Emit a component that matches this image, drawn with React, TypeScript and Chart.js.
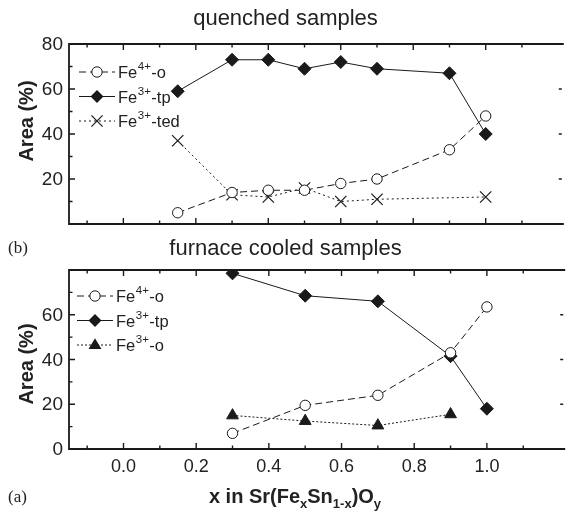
import React, { useEffect, useRef } from "react";
import { Chart, registerables } from "chart.js";

Chart.register(...registerables);

// ---- data ----
const xQuenched = [0.15, 0.3, 0.4, 0.5, 0.6, 0.7, 0.9, 1.0];
const qFe4o = [5, 14, 15, 15, 18, 20, 33, 48];
const qFe3tp = [59, 73, 73, 69, 72, 69, 67, 40];
const xQuenchedTed = [0.15, 0.3, 0.4, 0.5, 0.6, 0.7, 1.0];
const qFe3ted = [37, 13, 12, 16, 10, 11, 12];

const xFurnace = [0.3, 0.5, 0.7, 0.9, 1.0];
const fFe4o = [7, 19.5, 24, 43, 63.5];
const fFe3tp = [78.5, 68.5, 66, 41.5, 18];
const xFurnaceO = [0.3, 0.5, 0.7, 0.9];
const fFe3o = [15, 12.5, 10.5, 15.5];

const xMajorTicks = [0, 0.2, 0.4, 0.6, 0.8, 1.0];
const xMinorTicks = [-0.1, 0.1, 0.3, 0.5, 0.7, 0.9, 1.1];
const yMajorTicks = [0, 20, 40, 60, 80];
const yMinorTicks = [10, 30, 50, 70];
const topYLabels = [20, 40, 60, 80];
const bottomYLabels = [0, 20, 40, 60];

const INK = "#1a1a1a";
const W = 571;
const H = 519;

type Marker = "circle" | "diamond" | "cross" | "triangle";
interface Series {
  sup: string;
  suffix: string;
  xs: number[];
  ys: number[];
  dash: number[];
  marker: Marker;
}

const quenchedSeries: Series[] = [
  { sup: "4+", suffix: "-o", xs: xQuenched, ys: qFe4o, dash: [7, 4], marker: "circle" },
  { sup: "3+", suffix: "-tp", xs: xQuenched, ys: qFe3tp, dash: [], marker: "diamond" },
  { sup: "3+", suffix: "-ted", xs: xQuenchedTed, ys: qFe3ted, dash: [2, 3], marker: "cross" },
];
const furnaceSeries: Series[] = [
  { sup: "4+", suffix: "-o", xs: xFurnace, ys: fFe4o, dash: [7, 4], marker: "circle" },
  { sup: "3+", suffix: "-tp", xs: xFurnace, ys: fFe3tp, dash: [], marker: "diamond" },
  { sup: "3+", suffix: "-o", xs: xFurnaceO, ys: fFe3o, dash: [2, 2], marker: "triangle" },
];

function markerProps(m: Marker) {
  switch (m) {
    case "circle":
      return { pointStyle: "circle", pointRadius: 5.2, pointBackgroundColor: "#fff", pointBorderWidth: 1 };
    case "diamond":
      return { pointStyle: "rectRot", pointRadius: 6.5, pointBackgroundColor: INK, pointBorderWidth: 1 };
    case "cross":
      return { pointStyle: "crossRot", pointRadius: 8, pointBackgroundColor: INK, pointBorderWidth: 1.2 };
    default:
      return { pointStyle: "triangle", pointRadius: 6.8, pointBackgroundColor: INK, pointBorderWidth: 1 };
  }
}

function drawMarker(ctx: CanvasRenderingContext2D, m: Marker, x: number, y: number) {
  ctx.save();
  ctx.setLineDash([]);
  ctx.strokeStyle = INK;
  ctx.fillStyle = INK;
  ctx.lineWidth = 1;
  ctx.beginPath();
  if (m === "circle") {
    ctx.arc(x, y, 5.2, 0, Math.PI * 2);
    ctx.fillStyle = "#fff";
    ctx.fill();
    ctx.stroke();
  } else if (m === "diamond") {
    const r = 6.5;
    ctx.moveTo(x, y - r);
    ctx.lineTo(x + r, y);
    ctx.lineTo(x, y + r);
    ctx.lineTo(x - r, y);
    ctx.closePath();
    ctx.fill();
  } else if (m === "cross") {
    const r = 5.6;
    ctx.lineWidth = 1.2;
    ctx.moveTo(x - r, y - r);
    ctx.lineTo(x + r, y + r);
    ctx.moveTo(x + r, y - r);
    ctx.lineTo(x - r, y + r);
    ctx.stroke();
  } else {
    const r = 6.8;
    ctx.moveTo(x, y - r);
    ctx.lineTo(x + r * 0.95, y + r * 0.6);
    ctx.lineTo(x - r * 0.95, y + r * 0.6);
    ctx.closePath();
    ctx.fill();
  }
  ctx.restore();
}

interface PanelCfg {
  series: Series[];
  padTop: number;
  plotBottom: number;
  yLabels: number[];
  showXLabels: boolean;
  legendY: number;
  legendX0: number;
}

function makeAxesPlugin(cfg: PanelCfg) {
  return {
    id: "customAxes",
    afterDraw(chart: any) {
      const ctx: CanvasRenderingContext2D = chart.ctx;
      const { left, top, right, bottom } = chart.chartArea;
      const xs = chart.scales.x;
      const ys = chart.scales.y;
      ctx.save();
      ctx.strokeStyle = INK;
      ctx.lineWidth = 1.8;
      ctx.setLineDash([]);
      ctx.beginPath();
      ctx.moveTo(right + 2, top);
      ctx.lineTo(left, top);
      ctx.lineTo(left, bottom);
      ctx.lineTo(right + 2, bottom);
      ctx.stroke();

      ctx.lineWidth = 1.4;
      ctx.beginPath();
      for (const v of xMajorTicks) {
        const px = xs.getPixelForValue(v);
        ctx.moveTo(px, bottom);
        ctx.lineTo(px, bottom - 6);
        ctx.moveTo(px, top);
        ctx.lineTo(px, top + 6);
      }
      for (const v of xMinorTicks) {
        const px = xs.getPixelForValue(v);
        ctx.moveTo(px, bottom);
        ctx.lineTo(px, bottom - 3.5);
        ctx.moveTo(px, top);
        ctx.lineTo(px, top + 3.5);
      }
      for (const v of yMajorTicks) {
        const py = ys.getPixelForValue(v);
        ctx.moveTo(left, py);
        ctx.lineTo(left + 6, py);
        ctx.moveTo(right, py);
        ctx.lineTo(right - 3, py);
      }
      for (const v of yMinorTicks) {
        const py = ys.getPixelForValue(v);
        ctx.moveTo(left, py);
        ctx.lineTo(left + 3.5, py);
      }
      ctx.stroke();

      // tick labels
      ctx.fillStyle = "#222";
      ctx.font = "19px 'Liberation Sans', Arial, sans-serif";
      ctx.textAlign = "right";
      ctx.textBaseline = "middle";
      for (const v of cfg.yLabels) {
        ctx.fillText(String(v), left - 6, ys.getPixelForValue(v) + 1);
      }
      if (cfg.showXLabels) {
        ctx.font = "18px 'Liberation Sans', Arial, sans-serif";
        ctx.textAlign = "center";
        ctx.textBaseline = "top";
        for (const v of xMajorTicks) {
          ctx.fillText(v.toFixed(1), xs.getPixelForValue(v), bottom + 9);
        }
      }

      // legend
      cfg.series.forEach((s, i) => {
        const y = cfg.legendY + i * 24.5;
        const x0 = cfg.legendX0;
        const x1 = x0 + 36;
        ctx.save();
        ctx.strokeStyle = INK;
        ctx.lineWidth = 1;
        ctx.setLineDash(s.dash);
        ctx.beginPath();
        ctx.moveTo(x0, y);
        ctx.lineTo(x1, y);
        ctx.stroke();
        ctx.restore();
        drawMarker(ctx, s.marker, (x0 + x1) / 2, y);
        let tx = x1 + 3;
        ctx.fillStyle = "#222";
        ctx.textAlign = "left";
        ctx.textBaseline = "alphabetic";
        ctx.font = "16.5px 'Liberation Sans', Arial, sans-serif";
        ctx.fillText("Fe", tx, y + 6);
        tx += ctx.measureText("Fe").width + 0.5;
        ctx.font = "11.5px 'Liberation Sans', Arial, sans-serif";
        ctx.fillText(s.sup, tx, y - 2);
        tx += ctx.measureText(s.sup).width + 0.5;
        ctx.font = "16.5px 'Liberation Sans', Arial, sans-serif";
        ctx.fillText(s.suffix, tx, y + 6);
      });
      ctx.restore();
    },
  };
}

function Panel({ cfg }: { cfg: PanelCfg }) {
  const ref = useRef<HTMLCanvasElement | null>(null);
  useEffect(() => {
    if (!ref.current) return;
    const datasets = cfg.series.map((s) => ({
      label: "Fe" + s.sup + s.suffix,
      data: s.xs.map((x, i) => ({ x, y: s.ys[i] })),
      borderColor: INK,
      borderWidth: 1,
      borderDash: s.dash,
      pointBorderColor: INK,
      showLine: true,
      fill: false,
      tension: 0,
      ...markerProps(s.marker),
    }));
    const chart = new Chart(ref.current, {
      type: "line",
      data: { datasets } as any,
      options: {
        animation: false,
        responsive: false,
        devicePixelRatio: 1,
        layout: {
          padding: { left: 69, right: 0, top: cfg.padTop, bottom: H - cfg.plotBottom },
        },
        plugins: { legend: { display: false }, tooltip: { enabled: false } },
        scales: {
          x: { type: "linear", min: -0.15, max: 1.21, display: false },
          y: { type: "linear", min: 0, max: 80, display: false },
        },
      } as any,
      plugins: [makeAxesPlugin(cfg)],
    });
    return () => chart.destroy();
  }, [cfg]);
  return (
    <canvas
      ref={ref}
      width={W}
      height={H}
      style={{ position: "absolute", left: 0, top: 0, width: W, height: H }}
    />
  );
}

const topCfg: PanelCfg = {
  series: quenchedSeries,
  padTop: 44,
  plotBottom: 224,
  yLabels: topYLabels,
  showXLabels: false,
  legendY: 72,
  legendX0: 79,
};
const bottomCfg: PanelCfg = {
  series: furnaceSeries,
  padTop: 270,
  plotBottom: 449,
  yLabels: bottomYLabels,
  showXLabels: true,
  legendY: 296,
  legendX0: 77,
};

const sans = "'Liberation Sans', Arial, sans-serif";
const serif = "'Liberation Serif', 'Times New Roman', serif";

export default function App() {
  const areaStyle = (cy: number): React.CSSProperties => ({
    position: "absolute",
    left: 26,
    top: cy,
    transform: "translate(-50%, -50%) rotate(-90deg)",
    fontFamily: sans,
    fontWeight: "bold",
    fontSize: 20,
    color: "#222",
    whiteSpace: "nowrap",
    lineHeight: "22px",
  });
  return (
    <div style={{ position: "absolute", left: 0, top: 0, width: W, height: H, background: "#fff", overflow: "hidden" }}>
      <Panel cfg={topCfg} />
      <Panel cfg={bottomCfg} />
      <div style={{ position: "absolute", left: 0, width: W, top: 6, textAlign: "center", fontFamily: sans, fontSize: 22, lineHeight: "24px", color: "#222" }}>
        quenched samples
      </div>
      <div style={{ position: "absolute", left: 0, width: W, top: 236, textAlign: "center", fontFamily: sans, fontSize: 22, lineHeight: "24px", color: "#222" }}>
        furnace cooled samples
      </div>
      <div style={{ position: "absolute", left: 8, top: 238, fontFamily: serif, fontSize: 17, lineHeight: "20px", color: "#222" }}>(b)</div>
      <div style={{ position: "absolute", left: 8, top: 487, fontFamily: serif, fontSize: 17, lineHeight: "20px", color: "#222" }}>(a)</div>
      <div style={areaStyle(121)}>Area (%)</div>
      <div style={areaStyle(364)}>Area (%)</div>
      <div
        style={{
          position: "absolute",
          left: 295,
          top: 484,
          transform: "translateX(-50%)",
          fontFamily: sans,
          fontWeight: "bold",
          fontSize: 20,
          lineHeight: "24px",
          color: "#222",
          whiteSpace: "nowrap",
        }}
      >
        x in Sr(Fe<sub style={{ fontSize: 13 }}>x</sub>Sn<sub style={{ fontSize: 13 }}>1-x</sub>)O<sub style={{ fontSize: 13 }}>y</sub>
      </div>
    </div>
  );
}
